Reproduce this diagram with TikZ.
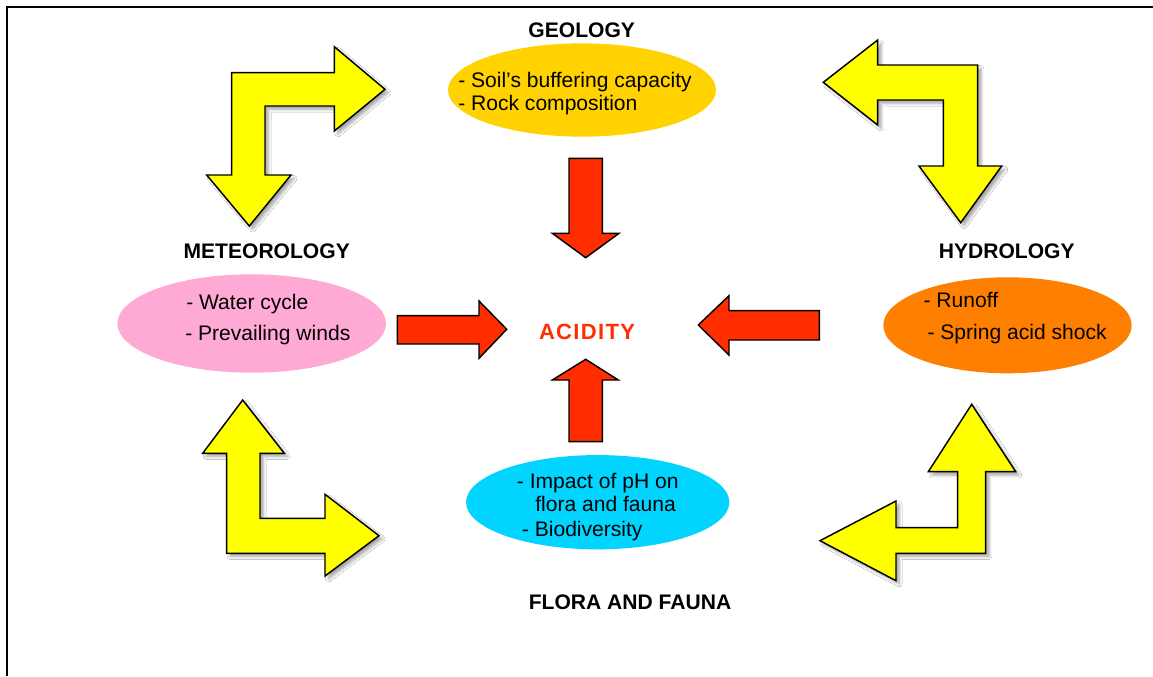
\documentclass[tikz,border=0pt]{standalone}
\usepackage{fontspec}
\setmainfont{Liberation Sans}
\usetikzlibrary{shapes.geometric,shadows.blur}
\definecolor{yel}{RGB}{255,255,0}
\definecolor{redar}{RGB}{255,45,0}
\definecolor{geo}{RGB}{255,210,0}
\definecolor{met}{RGB}{255,170,212}
\definecolor{hyd}{RGB}{255,128,0}
\definecolor{flo}{RGB}{0,212,255}
\begin{document}
\begin{tikzpicture}[x=0.75pt,y=-0.75pt,
  bendarrow/.style={draw=black, line width=1.1pt, fill=yel, line join=miter,
    blur shadow={shadow xshift=2.5pt, shadow yshift=-2.5pt, shadow blur steps=6, shadow opacity=35}},
  redarrow/.style={draw=black, line width=1.1pt, fill=redar, line join=miter},
  blob/.style={ellipse, draw=none, inner sep=0pt},
  heading/.style={font=\fontsize{15.8}{18}\selectfont\bfseries, inner sep=0pt},
  item/.style={font=\fontsize{15.8}{18}\selectfont, anchor=base west, inner sep=0pt},
]
\useasboundingbox (0,0) rectangle (1153,676);
\fill[white] (0,0) rectangle (1153,676);
% frame
\draw[line width=1.5pt] (7,676) -- (7,7) -- (1160,7);

% ellipses
\node[blob, fill=geo, minimum width=201pt, minimum height=70pt] (geoE) at (582,90) {};
\node[blob, fill=met, minimum width=201.5pt, minimum height=73.8pt] (metE) at (251.7,323.5) {};
\node[blob, fill=hyd, minimum width=186.3pt, minimum height=72pt] (hydE) at (1007.5,325.3) {};
\node[blob, fill=flo, minimum width=197.5pt, minimum height=70.7pt] (floE) at (597.7,502.2) {};

% headings
\node[heading] (geoH) at (581.7,30) {GEOLOGY};
\node[heading] (metH) at (266.7,251) {METEOROLOGY};
\node[heading] (hydH) at (1006.7,251) {HYDROLOGY};
\node[heading] (floH) at (630,602.7) {FLORA AND FAUNA};
\node[font=\fontsize{16.5}{18}\selectfont\bfseries\addfontfeatures{LetterSpace=6}, text=redar, inner sep=0pt] (acid) at (587,331.7) {ACIDITY};

% items
\node[item] (g1) at (458,87) {- Soil’s buffering capacity};
\node[item] (g2) at (458,110.5) {- Rock composition};
\node[item] (m1) at (186,309) {- Water cycle};
\node[item] (m2) at (185,340) {- Prevailing winds};
\node[item] (h1) at (923.3,307.7) {- Runoff};
\node[item] (h2) at (927.3,339.3) {- Spring acid shock};
\node[item] (f1) at (516.7,488.3) {- Impact of pH on};
\node[item] (f2) at (535,511.7) {flora and fauna};
\node[item] (f3) at (521.7,536.7) {- Biodiversity};

% yellow bent arrows
\draw[bendarrow] (231.7,175) -- (231.7,72.7) -- (334.3,72.7) -- (334.3,46.7) -- (385,89.3)
  -- (334.3,131) -- (334.3,106) -- (265,106) -- (265,175) -- (291,175) -- (249.3,226) -- (206.7,175) -- cycle;
\draw[bendarrow] (823.3,82.3) -- (877.7,40) -- (877.7,65) -- (977.7,65) -- (977.7,166) -- (1001.7,166)
  -- (960.7,222.7) -- (919,166) -- (943.3,166) -- (943.3,100) -- (877.7,100) -- (877.7,125) -- cycle;
\draw[bendarrow] (242.7,400) -- (284.3,453.3) -- (260,453.3) -- (260,518.3) -- (325,518.3) -- (325,494.3)
  -- (379,535.7) -- (325,576) -- (325,553.3) -- (226.7,553.3) -- (226.7,453.3) -- (202.7,453.3) -- cycle;
\draw[bendarrow] (971.7,404.3) -- (1015.7,471.7) -- (985.7,471.7) -- (985.7,553.3) -- (896,553.3) -- (896,580.7)
  -- (820,540.7) -- (896,501) -- (896,527.7) -- (957.7,527.7) -- (957.7,471.7) -- (928.3,471.7) -- cycle;

% red arrows
\draw[redarrow] (569,158.3) -- (602.3,158.3) -- (602.3,233.3) -- (619,233.3) -- (585.7,257.7) -- (552.3,233.3) -- (569,233.3) -- cycle;
\draw[redarrow] (397.3,315.7) -- (479,315.7) -- (479,301) -- (506.7,329.3) -- (479,358.3) -- (479,344) -- (397.3,344) -- cycle;
\draw[redarrow] (819.3,310.7) -- (729,310.7) -- (729,295.7) -- (698.3,325) -- (729,355) -- (729,340) -- (819.3,340) -- cycle;
\draw[redarrow] (569,441.7) -- (569,380) -- (552.3,380) -- (585.7,359.3) -- (618.3,380) -- (602.3,380) -- (602.3,441.7) -- cycle;
\end{tikzpicture}
\end{document}
